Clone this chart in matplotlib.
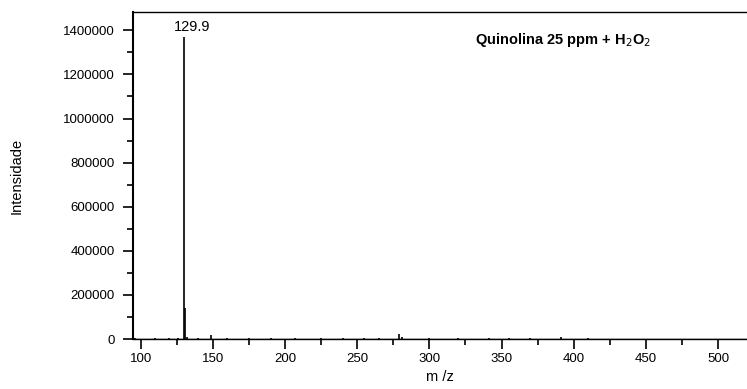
import matplotlib
matplotlib.use("Agg")
import matplotlib.pyplot as plt
from matplotlib.ticker import MultipleLocator

plt.rcParams['font.family'] = ['Liberation Sans', 'DejaVu Sans']

# m/z and intensity
mz = [96, 110, 120, 126, 129.9, 130.9, 131.9, 140, 149, 160, 175, 190, 207,
      225, 240, 255, 265, 279, 281, 300, 320, 341, 355, 370, 391, 410, 430,
      450, 470, 490, 510]
intensity = [3000, 3000, 4000, 5000, 1370000, 140000, 9000, 6000, 20000,
             4000, 5000, 3000, 4000, 5000, 3000, 4000, 5000, 22000, 9000,
             5000, 4000, 3000, 3000, 3000, 10000, 3000, 2000, 2000, 2000,
             2000, 2000]

base_peak = 129.9
base_label = "129.9"
title = "Quinolina 25 ppm + H$_2$O$_2$"

fig = plt.figure(figsize=(7.47, 3.89), dpi=100)
ax = fig.add_axes([0.178, 0.1285, 0.822, 0.8405])

ax.axhline(0, color='black', lw=1.0)
ax.vlines(mz, 0, intensity, color='black', lw=1.2)

ax.set_xlim(94.7, 520)
ax.set_ylim(0, 1483000)
ax.ticklabel_format(style='plain', axis='y', useOffset=False)
ax.xaxis.set_major_locator(MultipleLocator(50))
ax.xaxis.set_minor_locator(MultipleLocator(25))
ax.yaxis.set_major_locator(MultipleLocator(200000))
ax.yaxis.set_minor_locator(MultipleLocator(100000))
ax.tick_params(which='both', direction='out', width=1.2, labelsize=9.5,
               colors='black')
ax.tick_params(which='major', length=7)
ax.tick_params(which='minor', length=4.5)
ax.tick_params(axis='y', which='major', pad=6)
ax.tick_params(axis='x', which='major', pad=3)
ax.spines['left'].set_linewidth(1.5)
ax.spines['bottom'].set_linewidth(1.0)
ax.spines['top'].set_linewidth(1.0)
ax.spines['right'].set_visible(False)

ax.set_xlabel("m /z", fontsize=10.5)
ax.set_ylabel("Intensidade", fontsize=10.5)
ax.xaxis.set_label_coords(0.5, -0.095)
ax.yaxis.set_label_coords(-0.178, 0.5)

ax.annotate(base_label, xy=(base_peak, 1370000), xytext=(6, 2),
            textcoords='offset points', ha='center', va='bottom', fontsize=10.5)
ax.text(0.70, 0.914, title, transform=ax.transAxes, ha='center', va='center',
        fontsize=10.5, fontweight='bold')

fig.savefig("out.png", dpi=100)
